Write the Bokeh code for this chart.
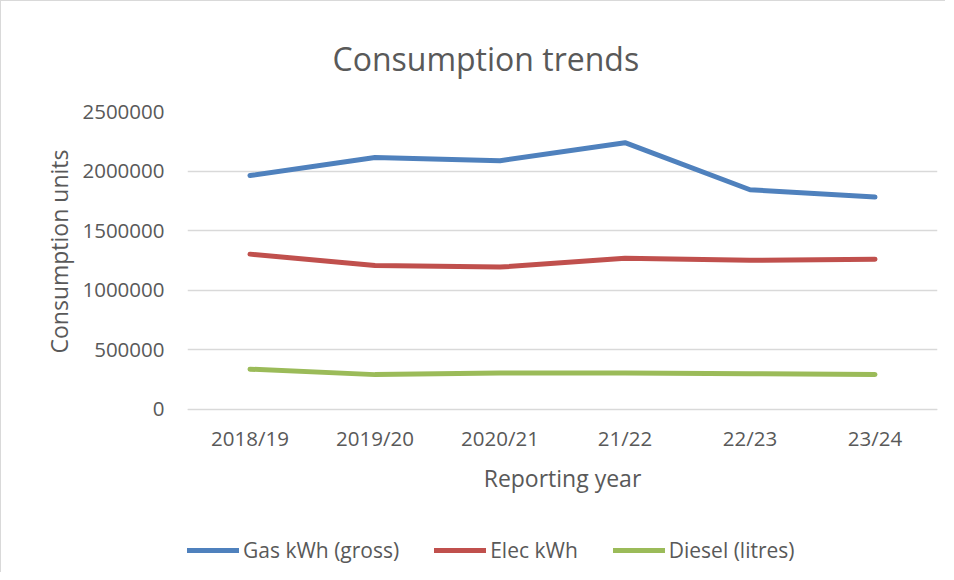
from bokeh.plotting import figure
from bokeh.models import (Range1d, FactorRange, FixedTicker, NumeralTickFormatter,
                          Legend, LegendItem, ColumnDataSource, Title)
from bokeh.embed import file_html
from bokeh.resources import INLINE

years = ["2018/19", "2019/20", "2020/21", "21/22", "22/23", "23/24"]
gas = [1962000, 2113000, 2087000, 2238000, 1843000, 1781000]
elec = [1302000, 1207000, 1193000, 1268000, 1250000, 1260000]
diesel = [336000, 290000, 303000, 304000, 298000, 291000]
y_ticks = [0, 500000, 1000000, 1500000, 2000000, 2500000]
Y_MAX = 2500000

series = [("Gas kWh (gross)", gas, "#4F81BD"),
          ("Elec kWh", elec, "#C0504D"),
          ("Diesel (litres)", diesel, "#9BBB59")]

FONT = "Open Sans"
TXT = "#595959"
GRID = "#D9D9D9"

# layout (pixels): plot area 297px tall for 0..Y_MAX, extra room below for axis + legend
AXIS_PX = 297
BELOW_PX = 159
y_start = -Y_MAX * BELOW_PX / AXIS_PX

p = figure(width=945, height=572, x_range=FactorRange(*years),
           y_range=Range1d(y_start, Y_MAX), output_backend="svg",
           toolbar_location=None, min_border_left=186, min_border_top=110,
           min_border_right=9, min_border_bottom=5,
           title="Consumption trends")
p.styles = {"border-left": "1px solid #D9D9D9", "border-top": "1px solid #D9D9D9"}
p.outline_line_color = None
p.background_fill_color = "white"
p.border_fill_color = "white"

p.title.align = "left"
p.title.offset = 145
p.title.text_font = FONT
p.title.text_font_size = "32px"
p.title.text_font_style = "normal"
p.title.text_color = TXT
p.title.standoff = 64

renderers = []
for name, vals, col in series:
    src = ColumnDataSource(dict(x=years, y=vals))
    r = p.line("x", "y", source=src, line_color=col, line_width=5,
               line_cap="round", line_join="round")
    renderers.append((name, r))

p.yaxis.ticker = FixedTicker(ticks=y_ticks)
p.yaxis.formatter = NumeralTickFormatter(format="0")
p.yaxis.bounds = (0, Y_MAX)
p.yaxis.axis_line_color = None
p.yaxis.major_label_standoff = 23

# y-axis title placed as a side title so it centres on the 0..Y_MAX span
p.add_layout(Title(text="Consumption units", align="left", offset=215,
                   standoff=10, text_font=FONT, text_font_size="23px",
                   text_font_style="normal", text_color=TXT), "left")

p.xaxis.fixed_location = 0
p.xaxis.axis_line_color = GRID
p.xaxis.major_label_standoff = 15
p.xaxis.axis_label = "Reporting year"
p.xaxis.axis_label_standoff = 6

for ax in (p.xaxis[0], p.yaxis[0]):
    ax.major_tick_line_color = None
    ax.minor_tick_line_color = None
    ax.major_tick_out = 0
    ax.major_tick_in = 0
    ax.minor_tick_out = 0
    ax.minor_tick_in = 0
    ax.major_label_text_font = FONT
    ax.major_label_text_font_size = "20.5px"
    ax.major_label_text_color = TXT
    ax.axis_label_text_font = FONT
    ax.axis_label_text_font_size = "23px"
    ax.axis_label_text_font_style = "normal"
    ax.axis_label_text_color = TXT

p.xgrid.grid_line_color = None
p.ygrid.grid_line_color = GRID
p.ygrid.grid_line_width = 1.3

legend = Legend(items=[LegendItem(label=n, renderers=[r]) for n, r in renderers],
                orientation="horizontal", location=(0, 4),
                glyph_width=52, glyph_height=20, label_standoff=4, spacing=35,
                padding=0, margin=0, border_line_color=None,
                background_fill_alpha=0,
                label_text_font=FONT, label_text_font_size="21px",
                label_text_color=TXT)
p.add_layout(legend)

open("out.html", "w").write(file_html(p, INLINE))
